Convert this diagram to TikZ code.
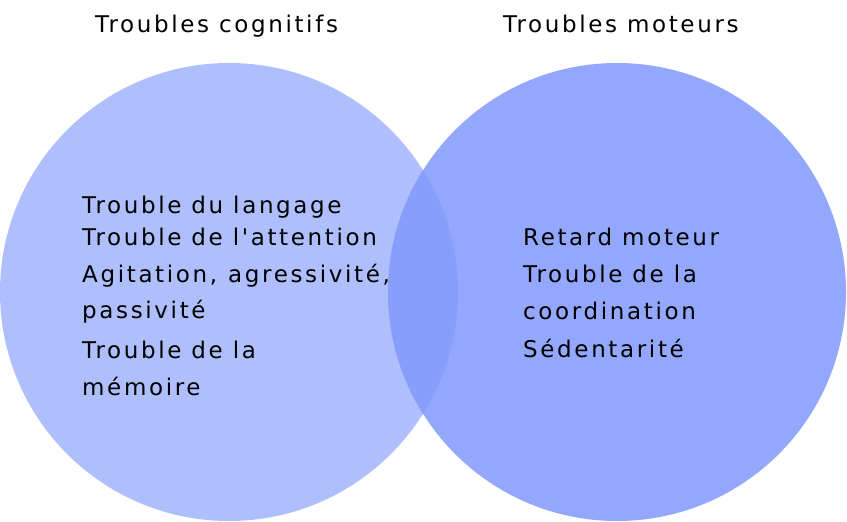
\documentclass[tikz,border=0pt]{standalone}
\usepackage{fontspec}
\setmainfont{DejaVu Sans}[LetterSpace=11.5,Ligatures=TeXOff]
\definecolor{cogn}{RGB}{175,190,252}
\definecolor{mot}{RGB}{147,167,252}
\definecolor{both}{RGB}{136,158,251}
\begin{document}
\begin{tikzpicture}[x=1pt,y=-1pt,
  txt/.style={anchor=base west,inner sep=0pt,font=\fontsize{23}{28}\selectfont,text=black}]
\useasboundingbox (0,0) rectangle (847,522);
\fill[cogn] (229,292) circle[radius=229];
\fill[mot] (617,292) circle[radius=229];
\begin{scope}
\clip (229,292) circle[radius=229];
\fill[both] (617,292) circle[radius=229];
\end{scope}
\node[txt] (t1) at (95,32) {Troubles cognitifs};
\node[txt] (t2) at (503,32) {Troubles moteurs};
\node[txt] (a1) at (82,213) {Trouble du langage};
\node[txt] (a2) at (82,245) {Trouble de l'attention};
\node[txt] (a3) at (82,282) {Agitation,\hspace{1pt} agressivité,};
\node[txt] (a4) at (82,318) {passivité};
\node[txt] (a5) at (82,358) {Trouble de la};
\node[txt] (a6) at (82,395) {mémoire};
\node[txt] (b1) at (523,245) {Retard moteur};
\node[txt] (b2) at (523,282) {Trouble de la};
\node[txt] (b3) at (523,319) {coordination};
\node[txt] (b4) at (523,357) {Sédentarité};
\end{tikzpicture}
\end{document}
